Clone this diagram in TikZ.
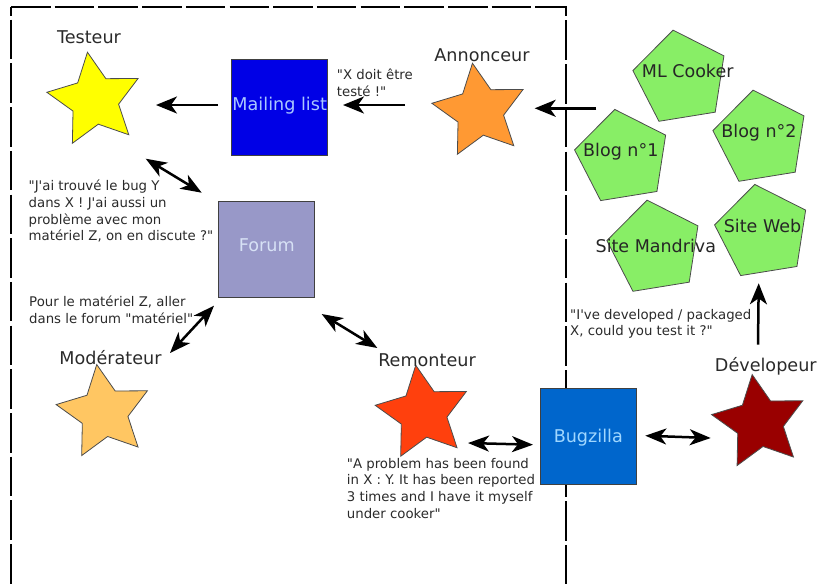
\documentclass[tikz,border=0pt]{standalone}
\usepackage{fontspec}
\newfontfamily\dvsans{DejaVu Sans}
\usetikzlibrary{shapes.geometric,arrows.meta}
\definecolor{txtgrey}{HTML}{2A2A2A}
\definecolor{sitegreen}{HTML}{88EE66}
\definecolor{pureyellow}{rgb}{1,1,0}
\tikzset{
  x=1pt,y=-1pt,
  actor/.style={star,star points=5,star point ratio=2,minimum size=97pt,inner sep=0pt,draw=black!70!white,line width=0.8pt,shape border rotate=8.6},
  site/.style={regular polygon,regular polygon sides=5,minimum size=97pt,inner sep=0pt,draw=black!70!white,fill=sitegreen,line width=0.8pt,shape border rotate=9.2},
  hub/.style={rectangle,minimum size=96pt,inner sep=0pt,draw=black!75!white,line width=0.8pt,font=\dvsans\fontsize{17.6}{20}\selectfont},
  rolelabel/.style={inner sep=0pt,text=txtgrey,font=\dvsans\fontsize{17.6}{20}\selectfont},
  sitelabel/.style={inner sep=0pt,text=black!85!white,font=\dvsans\fontsize{17.5}{20}\selectfont},
  quote/.style={inner sep=0pt,anchor=north west,align=left,text=txtgrey,font=\dvsans\fontsize{13.3}{16.6}\selectfont},
  oneway/.style={line width=2.5pt,-{Stealth[length=21pt,width=17pt,inset=6pt]}},
  twoway/.style={line width=2.5pt,{Stealth[length=21pt,width=16pt,inset=6pt]}-{Stealth[length=21pt,width=16pt,inset=6pt]}},
  frameline/.style={line width=2.3pt,dash pattern=on 39.5pt off 4.2pt}
}
\begin{document}
\begin{tikzpicture}
\useasboundingbox (0,0) rectangle (826,587);
% frame
\coordinate (c1) at (11,7);
\coordinate (c2) at (565.7,7);
\coordinate (c3) at (565.7,587);
\coordinate (c4) at (11,587);
\draw[frameline] (c1) -- (c2) -- (c3);
\draw[frameline,dash phase=31pt] (c1) -- (c4);
% stars
\node[actor,fill=pureyellow] (tst) at (94.7,100.2) {};
\node[actor,fill={rgb,255:red,255;green,153;blue,51}] (ann) at (479.7,111.2) {};
\node[actor,fill={rgb,255:red,255;green,198;blue,98}] (mod) at (104,412.5) {};
\node[actor,fill={rgb,255:red,255;green,64;blue,13}] (rem) at (423,413.2) {};
\node[actor,fill={rgb,255:red,153;green,0;blue,0}] (dev) at (759.4,422.5) {};
% hubs
\node[hub,fill={rgb,255:red,0;green,0;blue,230},text={rgb,255:red,170;green,200;blue,255}] (ml) at (279.7,107.5) {\raisebox{-3pt}[0pt][0pt]{Mailing list}};
\node[hub,fill={rgb,255:red,152;green,152;blue,200},text={rgb,255:red,215;green,225;blue,245}] (forum) at (266.8,249) {\raisebox{-2.5pt}[0pt][0pt]{Forum}};
\node[hub,fill={rgb,255:red,0;green,102;blue,204},text={rgb,255:red,160;green,215;blue,255}] (bug) at (588.3,436.7) {\raisebox{-5.8pt}[0pt][0pt]{Bugzilla}};
% sites
\node[site] (mlc) at (680.8,78) {};
\node[site] (b1) at (622.5,157.3) {};
\node[site] (b2) at (760.8,138) {};
\node[site] (sm) at (654.8,248) {};
\node[site] (sw) at (762.5,232.3) {};
% role labels
\node[rolelabel] (ltst) at (89,37) {Testeur};
\node[rolelabel] (lann) at (482,55) {Annonceur};
\node[rolelabel] (lmod) at (110.5,357.7) {Modérateur};
\node[rolelabel] (lrem) at (427,360) {Remonteur};
\node[rolelabel] (ldev) at (765.8,366.5) {Dévelopeur};
% site labels
\node[sitelabel] (lmlc) at (687.7,71) {ML Cooker};
\node[sitelabel] (lb1) at (620.8,151.5) {Blog n°1};
\node[sitelabel] (lb2) at (759,132.5) {Blog n°2};
\node[sitelabel] (lsm) at (655.8,246) {Site Mandriva};
\node[sitelabel] (lsw) at (762.5,225.7) {Site Web};
% quotes
\node[quote] (q1) at (336.7,69) {"X doit être\\testé !"};
\node[quote] (q2) at (28.5,180) {"J'ai trouvé le bug Y\\dans X ! J'ai aussi un\\problème avec mon\\matériel Z, on en discute ?"};
\node[quote] (q3) at (29,296) {Pour le matériel Z, aller\\dans le forum "matériel"};
\node[quote] (q4) at (570,309) {"I've developed / packaged\\X, could you test it ?"};
\node[quote] (q5) at (346.7,458) {"A problem has been found\\in X : Y. It has been reported\\3 times and I have it myself\\under cooker"};
% connectors
\draw[oneway] ([shift={(-61.7,-2.5)}]ml.center) -- ([shift={(61.3,4.8)}]tst.center);
\draw[oneway] ([shift={(-74.7,-6.2)}]ann.center) -- ([shift={(63.3,-2.5)}]ml.center);
\draw[oneway] ([shift={(-84.5,30.3)}]mlc.center) -- ([shift={(55,-2.9)}]ann.center);
\draw[twoway] ([shift={(51,58.5)}]tst.center) -- ([shift={(-65.1,-56.3)}]forum.center);
\draw[twoway] ([shift={(-52.8,56.7)}]forum.center) -- ([shift={(66,-59.5)}]mod.center);
\draw[twoway] ([shift={(54.9,65)}]forum.center) -- ([shift={(-45.7,-65.2)}]rem.center);
\draw[twoway] ([shift={(45,29.8)}]rem.center) -- ([shift={(-55.3,8)}]bug.center);
\draw[twoway] ([shift={(57,-1)}]bug.center) -- ([shift={(-48.7,15.5)}]dev.center);
\draw[oneway] ([shift={(-1.4,-77.8)}]dev.center) -- ([shift={(-3.8,51)}]sw.center);
\end{tikzpicture}
\end{document}
